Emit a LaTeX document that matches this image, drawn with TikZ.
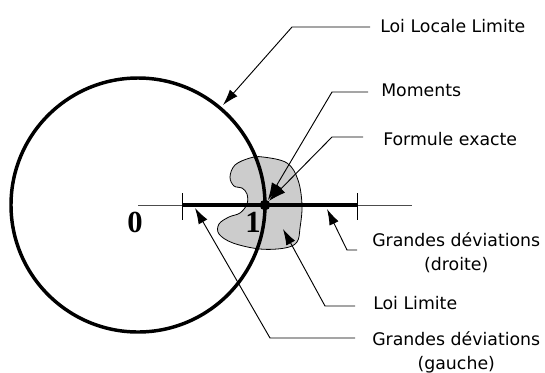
\documentclass[tikz,border=0pt]{standalone}
\usepackage{fontspec}
\usetikzlibrary{arrows.meta}
\newfontfamily\labfont{DejaVu Sans}
\newfontfamily\numfont{Liberation Serif}
\tikzset{
  lab/.style={font=\labfont\fontsize{13}{18}\selectfont, anchor=west, inner ysep=1pt, align=center},
  lead/.style={line width=0.7pt, black},
  leadarr/.style={lead, -{Latex[length=12pt,width=7.5pt]}},
  bigarr/.style={lead, -{Latex[length=13pt,width=8.5pt]}},
  numlab/.style={font=\numfont\bfseries\fontsize{23}{23}\selectfont, inner sep=0pt},
}
\begin{document}
\begin{tikzpicture}[x=0.75pt,y=-0.75pt]
\useasboundingbox (0,0) rectangle (545,372);
% blob
\filldraw[fill=gray!40, draw=black, line width=0.6pt]
  plot[smooth cycle, tension=0.6] coordinates {
  (263,157) (287,163) (298,180) (302,205) (300,228) (297,242) (285,248)
  (260,249) (233,243) (219,234) (219,224) (229,217) (240,213) (247,204)
  (247,194) (242,188) (234,186) (230,177) (235,165) (250,158)};
% circle
\draw[line width=2.6pt] (138,205) circle[radius=127];
% axis
\coordinate (o) at (138,205);
\coordinate (e) at (412,205);
\draw[line width=0.6pt, black!70] (o) -- (e);
\coordinate (l) at (182,205);
\coordinate (r) at (357,205);
\draw[line width=2.6pt] (l) -- (r);
\draw[line width=0.7pt] (182,193) -- (182,220);
\draw[line width=0.7pt] (357,193) -- (357,220);
\node[circle, fill=black, inner sep=0pt, minimum size=8pt] (pt) at (265,205) {};
\node[numlab] (zero) at (135,222) {0};
\node[numlab] (one) at (253,222) {1};
% labels
\node[lab, inner xsep=7.5pt] (l1) at (370,26) {Loi Locale Limite};
\node[lab, inner xsep=9.75pt] (l2) at (368,90) {Moments};
\node[lab, inner xsep=15pt] (l3) at (363,139) {Formule exacte};
\node[lab, inner xsep=11.25pt] (l4) at (357,253) {Grandes déviations\\(droite)};
\node[lab, inner xsep=13.5pt] (l5) at (355,303) {Loi Limite};
\node[lab, inner xsep=12.75pt] (l6) at (355,352) {Grandes déviations\\(gauche)};
% corners and tips
\coordinate (c1) at (292,27);  \coordinate (t1) at (223,105);
\coordinate (c2) at (332,92);
\coordinate (c3) at (332,137);
\coordinate (c4) at (347,250); \coordinate (t4) at (327,209);
\coordinate (c5) at (325,306); \coordinate (t5) at (283,229);
\coordinate (c6) at (270,338); \coordinate (t6) at (195,208);
\draw[leadarr] (l1.west |- c1) -- (c1) -- (t1);
\draw[bigarr] (l2.west |- c2) -- (c2) -- (pt);
\draw[bigarr] (l3.west |- c3) -- (c3) -- (pt);
\draw[leadarr] (l4.west |- c4) -- (c4) -- (t4);
\draw[leadarr] (l5.west |- c5) -- (c5) -- (t5);
\draw[leadarr] (l6.west |- c6) -- (c6) -- (t6);
\end{tikzpicture}
\end{document}
